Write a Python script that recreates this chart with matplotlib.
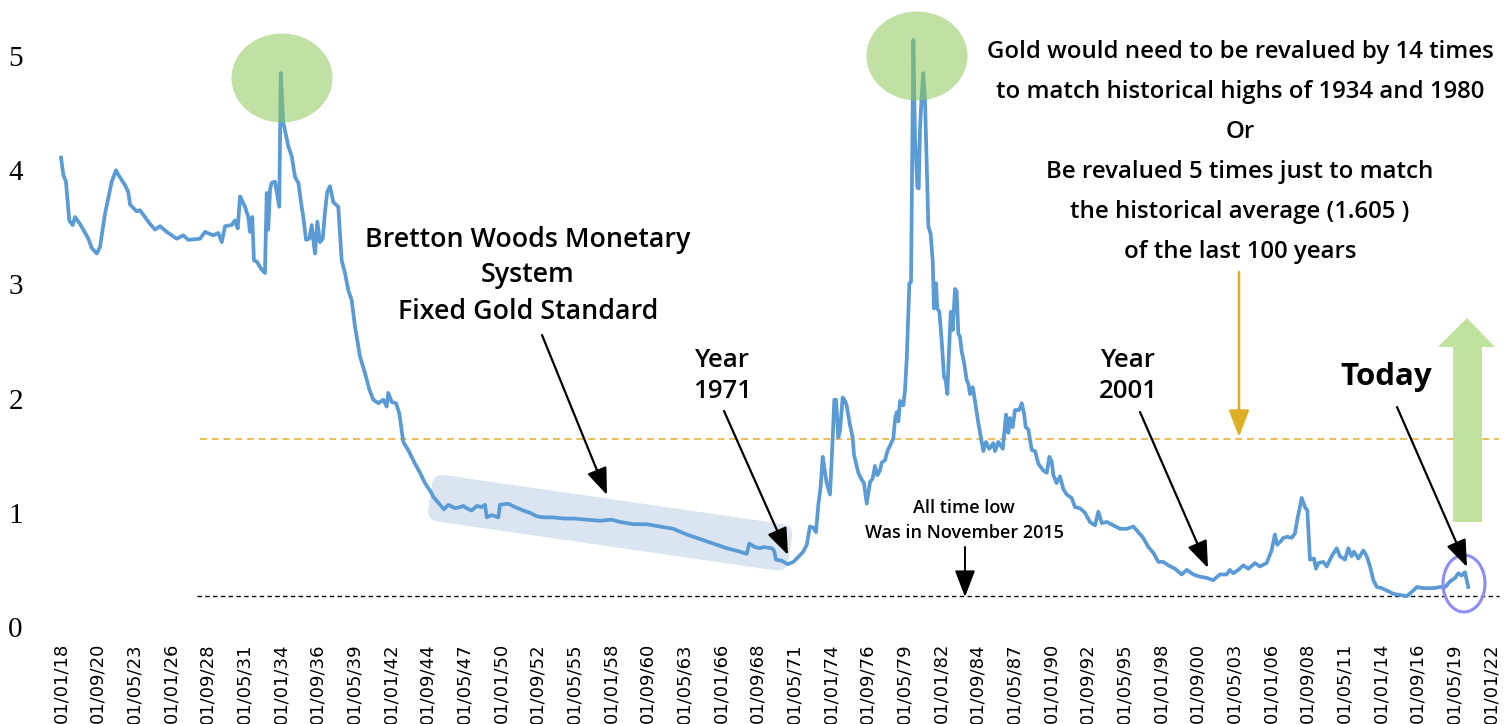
import matplotlib
matplotlib.use("Agg")
import matplotlib.pyplot as plt
import matplotlib.patches as mpatches
from matplotlib.transforms import Affine2D

# --- data -------------------------------------------------------------------
years = [
    1918.00, 1918.17, 1918.36, 1918.60, 1918.85, 1919.02, 1919.38, 1919.75, 1919.99, 1920.23,
    1920.60, 1920.84, 1921.20, 1921.69, 1922.00, 1922.17, 1922.65, 1922.89, 1923.02, 1923.50,
    1923.74, 1924.11, 1924.47, 1924.84, 1925.20, 1925.69, 1926.41, 1926.89, 1927.26, 1928.11,
    1928.47, 1929.07, 1929.44, 1929.69, 1929.93, 1930.41, 1930.65, 1930.85, 1931.02, 1931.38,
    1931.62, 1931.74, 1931.91, 1932.03, 1932.23, 1932.59, 1932.83, 1932.96, 1933.07, 1933.20,
    1933.32, 1933.56, 1933.87, 1933.98,
    1934.16, 1934.53, 1934.78, 1935.02, 1935.26, 1935.50, 1935.62, 1935.82, 1936.06, 1936.23,
    1936.35, 1936.47, 1936.64, 1936.83, 1937.03, 1937.20, 1937.36, 1937.56, 1937.80, 1938.16,
    1938.41, 1938.65, 1938.89, 1939.14, 1939.38, 1939.74, 1940.11, 1940.42, 1940.71, 1941.07,
    1941.44, 1941.68, 1941.80, 1942.05, 1942.36, 1942.60, 1942.89, 1943.25, 1943.74, 1944.11,
    1944.47, 1944.96,
    1945.07, 1945.56, 1945.85, 1946.16, 1946.65, 1947.01, 1947.25, 1947.50, 1947.86, 1948.23,
    1948.59, 1948.83, 1948.96, 1949.32, 1949.80, 1949.92, 1950.53, 1951.01, 1951.62, 1952.10,
    1952.59, 1953.07, 1953.80, 1954.53, 1955.25, 1956.23, 1957.19, 1958.04, 1958.65, 1959.62,
    1960.59, 1961.56, 1962.52, 1963.50, 1964.47, 1965.43, 1966.41, 1967.37, 1967.86, 1968.05,
    1968.46, 1968.83, 1969.07, 1969.68, 1969.85, 1969.99, 1970.41, 1970.84, 1971.25,
    1971.50, 1971.98, 1972.23, 1972.46, 1972.70, 1972.90, 1973.07, 1973.24, 1973.39, 1973.56,
    1973.68, 1973.92, 1974.12, 1974.23, 1974.36, 1974.52, 1974.65, 1974.84, 1975.01, 1975.13,
    1975.37, 1975.57, 1975.66, 1975.98, 1976.22, 1976.39, 1976.59, 1976.83, 1977.02, 1977.19,
    1977.36, 1977.55, 1977.68, 1977.92, 1978.09, 1978.33, 1978.52, 1978.65, 1978.77, 1978.89,
    1979.01, 1979.25, 1979.37, 1979.50, 1979.69, 1979.81, 1979.98, 1980.10, 1980.17, 1980.27,
    1980.37, 1980.46, 1980.59, 1980.70, 1980.83, 1980.95, 1981.07, 1981.24, 1981.39, 1981.48,
    1981.63, 1981.72, 1981.87, 1982.04, 1982.21, 1982.33, 1982.45, 1982.57, 1982.70, 1982.84,
    1983.01, 1983.13, 1983.25, 1983.37, 1983.50, 1983.66, 1983.86, 1983.98, 1984.10, 1984.30,
    1984.46, 1984.70,
    1984.88, 1985.07, 1985.26, 1985.50, 1985.79, 1985.92, 1986.16, 1986.48, 1986.72, 1986.89,
    1987.01, 1987.20, 1987.37, 1987.68, 1987.86, 1988.03, 1988.15, 1988.34, 1988.59, 1988.83,
    1989.07, 1989.43, 1989.68, 1989.87, 1990.04, 1990.16, 1990.40, 1990.64, 1990.88, 1991.13,
    1991.49, 1991.73, 1992.10, 1992.46, 1992.82, 1993.19, 1993.43, 1993.68, 1994.04, 1994.52,
    1995.01, 1995.50, 1995.98, 1996.34, 1996.70, 1997.07, 1997.43, 1997.79, 1998.16, 1998.52,
    1999.01, 1999.49, 1999.86, 2000.34, 2000.82,
    2001.31, 2001.79, 2002.27, 2002.76, 2003.00, 2003.24, 2003.61, 2003.97, 2004.34, 2004.82,
    2005.18, 2005.67, 2006.03, 2006.27, 2006.44, 2006.69, 2006.88, 2007.17, 2007.49, 2007.73,
    2007.90, 2008.22, 2008.46, 2008.63, 2008.82, 2009.11, 2009.26, 2009.43, 2009.79, 2010.04,
    2010.40, 2010.76, 2011.00, 2011.37, 2011.61, 2011.85, 2012.02, 2012.34, 2012.70, 2012.95,
    2013.19, 2013.43, 2013.68, 2014.04, 2014.41, 2014.89, 2015.37, 2015.86, 2016.34, 2016.59,
    2017.07, 2017.80, 2018.28, 2018.65, 2019.01, 2019.38, 2019.61, 2019.85, 2020.09, 2020.33,
]
ratio = [
    4.11, 3.96, 3.90, 3.56, 3.52, 3.59, 3.53, 3.45, 3.40, 3.32,
    3.27, 3.33, 3.62, 3.90, 4.00, 3.96, 3.87, 3.81, 3.70, 3.64,
    3.65, 3.59, 3.53, 3.48, 3.51, 3.46, 3.40, 3.43, 3.39, 3.40,
    3.46, 3.43, 3.45, 3.37, 3.51, 3.52, 3.56, 3.49, 3.77, 3.68,
    3.59, 3.46, 3.59, 3.21, 3.20, 3.13, 3.10, 3.80, 3.48, 3.83,
    3.89, 3.90, 3.68, 4.85,
    4.42, 4.21, 4.12, 3.94, 3.89, 3.68, 3.59, 3.39, 3.40, 3.52,
    3.39, 3.27, 3.55, 3.37, 3.40, 3.64, 3.81, 3.86, 3.72, 3.68,
    3.21, 3.10, 2.95, 2.86, 2.63, 2.37, 2.22, 2.08, 1.99, 1.96,
    1.99, 1.93, 2.05, 1.97, 1.96, 1.87, 1.62, 1.55, 1.43, 1.35,
    1.26, 1.17,
    1.14, 1.07, 1.03, 1.07, 1.04, 1.05, 1.06, 1.04, 1.02, 1.06,
    1.05, 1.07, 0.96, 0.98, 0.96, 1.07, 1.08, 1.05, 1.02, 1.00,
    0.97, 0.96, 0.96, 0.95, 0.95, 0.94, 0.93, 0.94, 0.92, 0.90,
    0.90, 0.88, 0.86, 0.81, 0.77, 0.73, 0.69, 0.66, 0.64, 0.73,
    0.70, 0.69, 0.70, 0.69, 0.67, 0.59, 0.58, 0.55, 0.57,
    0.60, 0.66, 0.72, 0.88, 0.87, 0.83, 1.07, 1.23, 1.49, 1.35,
    1.26, 1.16, 1.66, 1.99, 1.99, 1.66, 1.72, 2.01, 1.98, 1.94,
    1.77, 1.66, 1.51, 1.35, 1.29, 1.26, 1.08, 1.27, 1.30, 1.41,
    1.33, 1.37, 1.44, 1.46, 1.54, 1.60, 1.65, 1.82, 1.88, 1.80,
    1.98, 1.94, 2.07, 2.35, 3.01, 3.02, 5.14, 4.29, 4.13, 3.85,
    3.84, 4.35, 4.66, 4.85, 4.60, 4.04, 3.51, 3.44, 3.20, 2.79,
    3.01, 2.79, 2.76, 2.51, 2.19, 2.16, 2.04, 2.41, 2.76, 2.60,
    2.96, 2.94, 2.57, 2.54, 2.41, 2.32, 2.16, 2.13, 2.04, 2.10,
    1.98, 1.79,
    1.67, 1.54, 1.62, 1.56, 1.61, 1.54, 1.62, 1.56, 1.86, 1.70,
    1.83, 1.75, 1.90, 1.90, 1.96, 1.87, 1.75, 1.73, 1.55, 1.54,
    1.43, 1.37, 1.35, 1.49, 1.45, 1.33, 1.26, 1.32, 1.21, 1.16,
    1.13, 1.05, 1.04, 1.00, 0.92, 0.89, 1.01, 0.91, 0.92, 0.89,
    0.86, 0.86, 0.88, 0.83, 0.78, 0.70, 0.65, 0.57, 0.57, 0.54,
    0.51, 0.46, 0.50, 0.46, 0.44,
    0.43, 0.41, 0.46, 0.46, 0.50, 0.47, 0.50, 0.54, 0.51, 0.56,
    0.53, 0.56, 0.67, 0.81, 0.72, 0.75, 0.78, 0.79, 0.78, 0.82,
    0.94, 1.13, 1.05, 1.02, 0.59, 0.60, 0.51, 0.56, 0.57, 0.53,
    0.62, 0.69, 0.62, 0.59, 0.69, 0.62, 0.66, 0.60, 0.67, 0.62,
    0.53, 0.41, 0.35, 0.34, 0.32, 0.29, 0.28, 0.27, 0.32, 0.35,
    0.34, 0.34, 0.35, 0.35, 0.40, 0.43, 0.47, 0.45, 0.48, 0.35,
]
hist_avg = 1.645   # drawn level of the "historical average" line

tick_labels = [
    "01/01/18", "01/09/20", "01/05/23", "01/01/26", "01/09/28", "01/05/31", "01/01/34",
    "01/09/36", "01/05/39", "01/01/42", "01/09/44", "01/05/47", "01/01/50", "01/09/52",
    "01/05/55", "01/01/58", "01/09/60", "01/05/63", "01/01/66", "01/09/68", "01/05/71",
    "01/01/74", "01/09/76", "01/05/79", "01/01/82", "01/09/84", "01/05/87", "01/01/90",
    "01/09/92", "01/05/95", "01/01/98", "01/09/00", "01/05/03", "01/01/06", "01/09/08",
    "01/05/11", "01/01/14", "01/09/16", "01/05/19", "01/01/22",
]
tick_pos = [1918 + i * 32 / 12 for i in range(len(tick_labels))]

# --- figure ------------------------------------------------------------------
W, H = 1505, 724


def px(x, y):
    # picture pixel -> figure fraction
    return (x / W, 1 - y / H)


fig = plt.figure(figsize=(W / 100, H / 100), dpi=100)
ax = fig.add_axes([45 / W, 1 - 632 / H, (1500 - 45) / W, (632 - 20) / H])

ANN = ["Open Sans", "DejaVu Sans"]

# Bretton Woods band (behind the line)
L, T, ang = 364, 47, 8.22
band = mpatches.FancyBboxPatch((0, 0), L, T, boxstyle="round,pad=0,rounding_size=11",
                               fc="#DAE5F1", ec="none", zorder=1,
                               transform=Affine2D().rotate_deg(-ang).translate(426.7, H - 520)
                               .scale(1 / W, 1 / H) + fig.transFigure)
ax.add_patch(band)

ax.plot(years, ratio, color="#5B9BD5", lw=2.7, zorder=3, solid_joinstyle="round")

low = min(ratio)
ax.hlines(low, 1927.9, 2022.6, colors="black", lw=1.0, linestyles=(0, (3.2, 2.4)), zorder=2)
ax.hlines(hist_avg, 1928.1, 2022.6, colors="#E3AE2B", lw=1.1, linestyles=(0, (4.5, 3.2)), zorder=2)

ax.set_xlim(1918 + (45 - 61) / 13.752, 1918 + (1500 - 61) / 13.752)
ax.set_ylim((627 - 632) / 114.2, (627 - 20) / 114.2)
ax.set_xticks(tick_pos)
ax.set_xticklabels(tick_labels, rotation=90, fontsize=13, family="DejaVu Sans", va="top")
ax.set_yticks([0, 1, 2, 3, 4, 5])
ax.set_yticklabels(["0", "1", "2", "3", "4", "5"], fontsize=21, family="Liberation Serif")
ax.tick_params(axis="both", length=0)
ax.tick_params(axis="x", pad=8)
ax.tick_params(axis="y", pad=16)
for s in ax.spines.values():
    s.set_visible(False)

# green highlight circles
for cx, cy in [(282, 78), (917, 56)]:
    fig.patches.append(mpatches.Ellipse(px(cx, cy), 101 / W, 89 / H, fc="#8DC85A",
                                        ec="none", alpha=0.55, transform=fig.transFigure))
# today circle
fig.patches.append(mpatches.Ellipse(px(1464, 583.5), 42 / W, 57 / H, fc="none",
                                    ec="#8C8CF6", lw=2.2, transform=fig.transFigure))
# big green up arrow
arrow_pts = [(1453, 522), (1482, 522), (1482, 347), (1495, 347), (1467, 318),
             (1438, 347), (1453, 347)]
fig.patches.append(mpatches.Polygon([px(x, y) for x, y in arrow_pts], closed=True,
                                    fc="#BFE29C", ec="none", transform=fig.transFigure))


def arrow(x0, y0, x1, y1, color="black", lw=1.6):
    fig.patches.append(mpatches.FancyArrowPatch(
        px(x0, y0), px(x1, y1), transform=fig.transFigure,
        arrowstyle="-|>,head_length=1.1,head_width=0.42", mutation_scale=15,
        color=color, lw=lw, shrinkA=0, shrinkB=0))


arrow(542, 335, 607, 495)
arrow(724, 411, 788, 555)
arrow(1140, 412, 1208, 568)
arrow(1397, 407, 1467, 567)
arrow(965, 547, 965, 597, lw=1.4)
arrow(1239, 272, 1239, 437, color="#DDAF27", lw=1.8)


def label(x, y, s, size, weight="semibold"):
    fig.text(x / W, 1 - y / H, s, ha="center", va="center", fontsize=size,
             family=ANN, fontweight=weight, color="black")


big = ["Gold would need to be revalued by 14 times",
       "to match historical highs of 1934 and 1980",
       "Or",
       "Be revalued 5 times just to match",
       "the historical average (1.605 )",
       "of the last 100 years"]
for i, s in enumerate(big):
    label(1240, 52 + 40 * i, s, 17.3)

label(528, 240, "Bretton Woods Monetary", 19.3)
label(528, 275, "System", 19.3)
label(528, 312, "Fixed Gold Standard", 19.3)
label(722, 360, "Year", 18.5)
label(722, 392, "1971", 18.5)
label(1128, 360, "Year", 18.5)
label(1128, 392, "2001", 18.5)
label(1386, 377, "Today", 22.5, "bold")
label(964, 508, "All time low", 13)
label(964, 533, "Was in November 2015", 13)

fig.savefig("out.png", dpi=100)
